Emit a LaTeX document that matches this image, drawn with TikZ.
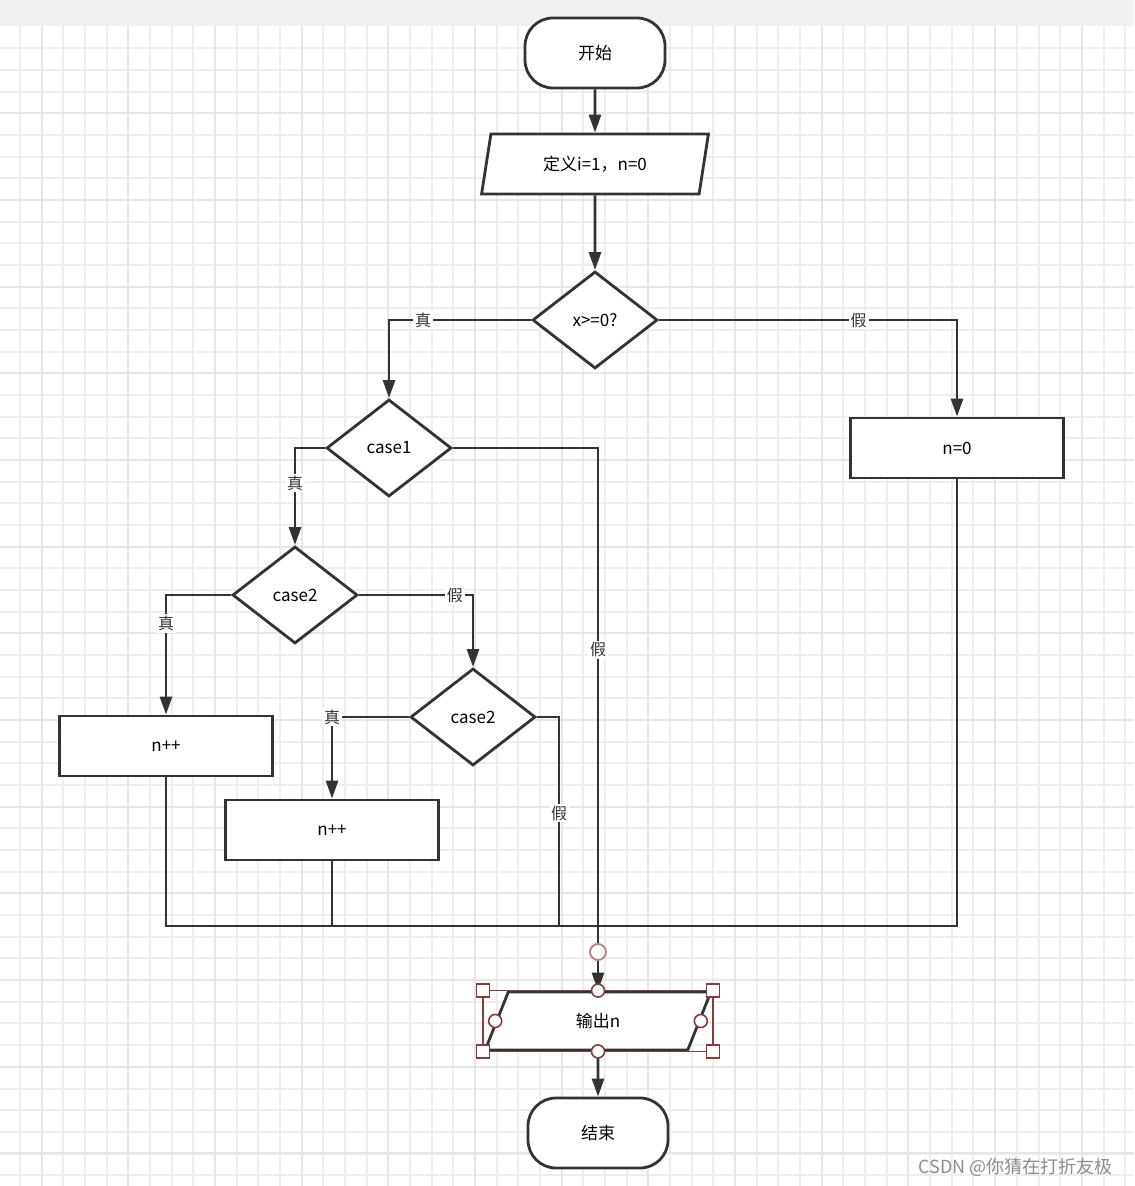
\documentclass[tikz,border=0pt]{standalone}
\usepackage{fontspec}
\setmainfont{Noto Sans CJK SC}
\usetikzlibrary{arrows.meta,calc,shapes.geometric,shapes.misc}
\definecolor{FlowInk}{HTML}{333333}
\definecolor{GridMinor}{HTML}{EEEEEE}
\definecolor{GridMajor}{HTML}{E6E6E6}
\definecolor{GridTop}{HTML}{F1F1F1}
\definecolor{SelectRed}{HTML}{8A3C3C}

\begin{document}
\begin{tikzpicture}[x=0.5pt,y=-0.5pt,
    font=\fontsize{8.5}{10}\selectfont,
    term/.style={draw=FlowInk,line width=1.4pt,fill=white,rounded corners=14pt,minimum width=70pt,minimum height=35pt},
    io/.style={draw=FlowInk,line width=1.4pt,fill=white,trapezium,trapezium stretches=true,trapezium left angle=74,trapezium right angle=106,minimum width=114pt,minimum height=30pt,inner sep=0pt},
    dec/.style={draw=FlowInk,line width=1.4pt,fill=white,diamond,inner sep=0pt,minimum width=62.5pt,minimum height=48.5pt},
    box/.style={draw=FlowInk,line width=1.4pt,fill=white,minimum width=106.5pt,minimum height=30pt},
    wire/.style={FlowInk,line width=1.4pt},
    arr/.style={wire,-{Triangle[length=9pt,width=6pt]}},
    lbl/.style={fill=white,inner sep=1pt,font=\fontsize{8}{9}\selectfont,text=FlowInk},
    grip/.style={draw=SelectRed,fill=white,line width=0.8pt,minimum size=6.5pt,inner sep=0pt},
  ]
    \useasboundingbox (0,0) rectangle (1134,1186);
    % canvas grid
    \fill[white] (0,0) rectangle (1134,1186);
    \foreach \gx in {-1.67,20,...,1134} \draw[GridMinor,line width=1pt] (\gx,25) -- (\gx,1186);
    \foreach \gy in {48.33,70,...,1186} \draw[GridMinor,line width=1pt] (0,\gy) -- (1134,\gy);
    \foreach \gx in {41.67,128.33,...,1134} \draw[GridMajor,line width=1pt] (\gx,25) -- (\gx,1186);
    \foreach \gy in {113.33,200,...,1186} \draw[GridMajor,line width=1pt] (0,\gy) -- (1134,\gy);
    \fill[GridTop] (0,0) rectangle (1134,26);

    \node[term] (start) at (595,53) {开始};
    \node[io] (def) at (595,164) {定义i=1，n=0};
    \node[dec] (cond) at (595,320) {x>=0?};
    \node[dec] (case1) at (389,448) {case1};
    \node[box] (nzero) at (957,448) {n=0};
    \node[dec] (case2a) at (295,595) {case2};
    \node[dec] (case2b) at (473,717) {case2};
    \node[box] (incA) at (166,746) {n++};
    \node[box] (incB) at (332,830) {n++};
    \node[io,trapezium left angle=70,trapezium right angle=110,minimum width=113pt,minimum height=29pt] (out) at (598,1021) {输出n};
    \node[term] (stop) at (598,1133) {结束};
    \coordinate (merge) at (598,926);
    \coordinate (mergeB) at (559,926);

    \draw[arr] (start) -- (def);
    \draw[arr] (def) -- (cond);
    \draw[arr] (cond.west) -| node[lbl,pos=0.38] (condT) {真} (case1.north);
    \draw[arr] (cond.east) -| node[lbl,pos=0.335] (condF) {假} (nzero.north);
    \draw[arr] (case1.west) -| node[lbl,pos=0.68] (case1T) {真} (case2a.north);
    \draw[arr] (case1.east) -| node[lbl,pos=0.686] (case1F) {假} (out.north);
    \draw[arr] (case2a.west) -| node[lbl,pos=0.62] (case2aT) {真} (incA.north);
    \draw[arr] (case2a.east) -| node[lbl,pos=0.42] (case2aF) {假} (case2b.north);
    \draw[arr] (case2b.west) -| node[lbl,pos=0.5] (case2bT) {真} (incB.north);
    \draw[wire] (case2b.east) -| node[lbl,pos=0.73] (case2bF) {假} (mergeB);
    \draw[wire] (incA.south) |- (merge);
    \draw[wire] (incB.south) -- (incB.south |- merge);
    \draw[wire] (nzero.south) |- (merge);
    \draw[arr] (out) -- (stop);

    % selection handles on the output node
    \node[grip,circle,draw=SelectRed!60,line width=1pt,minimum size=8pt] (pin) at (598,952) {};
    \draw[SelectRed,line width=0.8pt] (out.bottom left corner) rectangle (out.top right corner);
    \node[grip] (gripA) at (out.bottom left corner |- out.top right corner) {};
    \node[grip] (gripB) at (out.top right corner) {};
    \node[grip] (gripC) at (out.bottom left corner) {};
    \node[grip] (gripD) at (out.bottom left corner -| out.top right corner) {};
    \node[grip,circle] (gripN) at (out.north) {};
    \node[grip,circle] (gripS) at (out.south) {};
    \node[grip,circle] (gripW) at ($(out.bottom left corner)!0.5!(out.top left corner)$) {};
    \node[grip,circle] (gripE) at ($(out.bottom right corner)!0.5!(out.top right corner)$) {};

    \node[font=\fontsize{9}{10}\selectfont,text=black!45,anchor=east] (mark) at (1120,1167) {CSDN @你猜在打折友极};
  \end{tikzpicture}
\end{document}
